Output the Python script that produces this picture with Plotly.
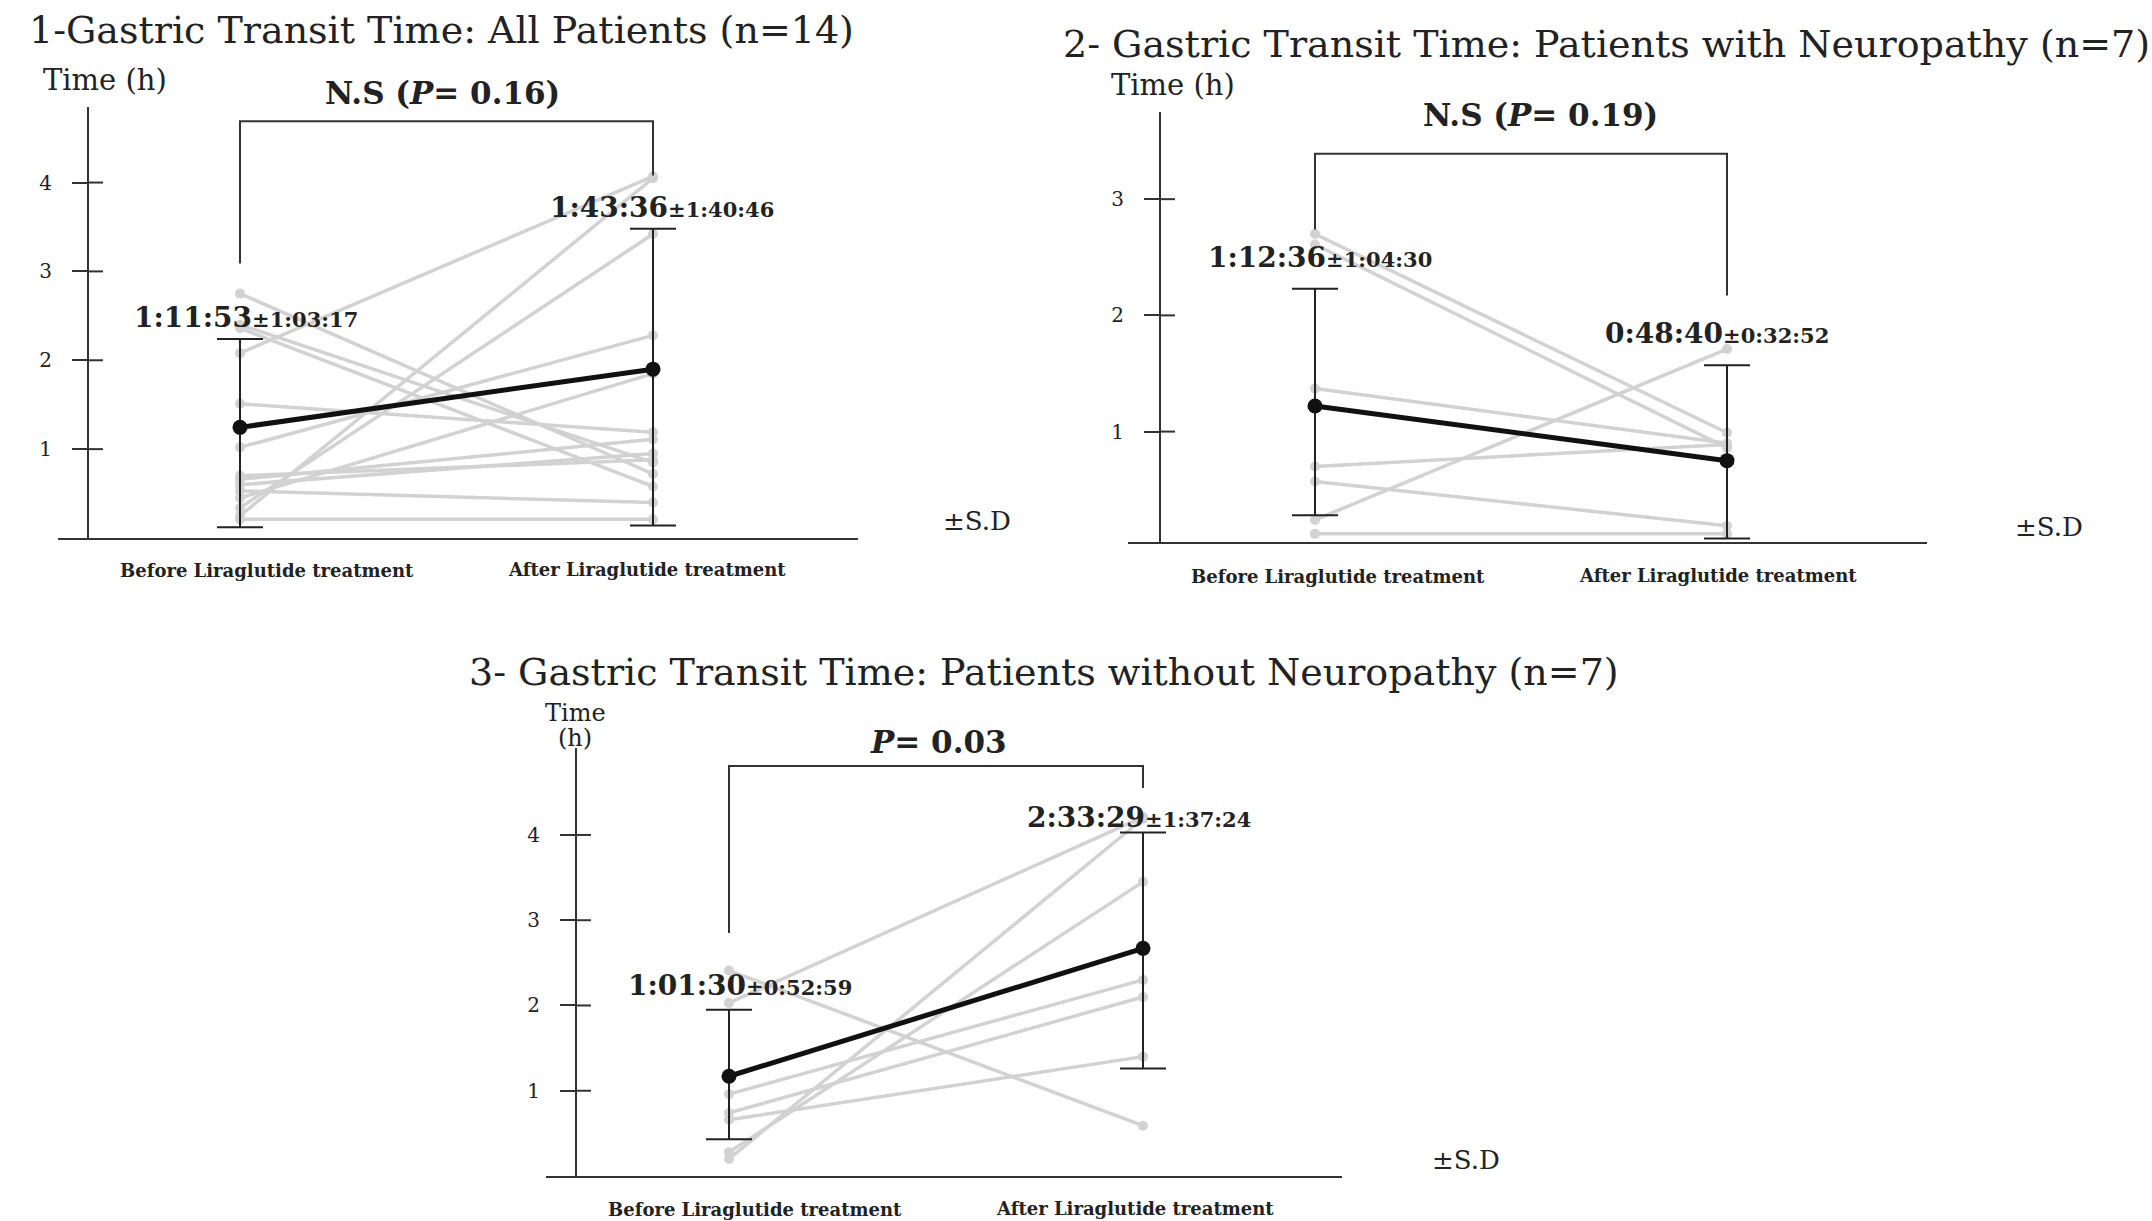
import plotly.graph_objects as go

W, H = 2152, 1221

categories = ["Before Liraglutide treatment", "After Liraglutide treatment"]
tick_values = [1, 2, 3, 4]

# ---------- Panel 1: all patients ----------
p1_title = "1-Gastric Transit Time: All Patients (n=14)"
p1_before = [2.75, 2.40, 2.36, 2.08, 1.51, 1.02, 0.70, 0.66, 0.53, 0.45, 0.34, 0.25, 0.21, 0.60]
p1_after = [0.72, 0.85, 0.58, 4.07, 1.19, 2.28, 0.88, 1.11, 0.40, 1.85, 3.42, 4.05, 0.21, 0.95]
p1_mean = [1.245, 1.90]
p1_err_plus = [0.995, 1.58]
p1_err_minus = [1.125, 1.76]
p1_mean_text = ["1:11:53", "1:43:36"]
p1_sd_text = ["±1:03:17", "±1:40:46"]
p1_pvalue = "N.S (<i>P</i>= 0.16)"
p1_bracket = [3.09, 4.69, 4.08]   # left leg end, top, right leg end
p1_yrange = [0, 4.85]

# ---------- Panel 2: with neuropathy ----------
p2_title = "2- Gastric Transit Time: Patients with Neuropathy (n=7)"
p2_before = [2.70, 2.61, 1.37, 0.70, 0.57, 0.24, 0.12]
p2_after = [0.99, 0.86, 0.90, 0.89, 0.19, 1.71, 0.12]
p2_mean = [1.22, 0.75]
p2_err_plus = [1.01, 0.82]
p2_err_minus = [0.94, 0.67]
p2_mean_text = ["1:12:36", "0:48:40"]
p2_sd_text = ["±1:04:30", "±0:32:52"]
p2_pvalue = "N.S (<i>P</i>= 0.19)"
p2_bracket = [2.74, 3.39, 2.17]
p2_yrange = [0.05, 3.75]

# ---------- Panel 3: without neuropathy ----------
p3_title = "3- Gastric Transit Time: Patients without Neuropathy (n=7)"
p3_before = [2.41, 2.03, 0.20, 0.28, 0.96, 0.74, 0.66]
p3_after = [0.59, 4.21, 4.19, 3.45, 2.30, 2.10, 1.40]
p3_mean = [1.17, 2.67]
p3_err_plus = [0.78, 1.36]
p3_err_minus = [0.74, 1.41]
p3_mean_text = ["1:01:30", "2:33:29"]
p3_sd_text = ["±0:52:59", "±1:37:24"]
p3_pvalue = "<i>P</i>= 0.03"
p3_bracket = [2.85, 4.81, 4.55]
p3_yrange = [0, 5.02]

FONT = "DejaVu Serif"
TXT = "#222222"
AX = "#333333"
GRAY = "#d2d2d2"


def px(x):
    return x / W


def py(y):
    return 1 - y / H


fig = go.Figure()

panels = [
    dict(n="", before=p1_before, after=p1_after, mean=p1_mean, ep=p1_err_plus, em=p1_err_minus,
         bracket=p1_bracket, yrange=p1_yrange,
         xdom=[58, 858], ydom=[538, 107], yaxis_x=88, cat_px=[240, 653]),
    dict(n="2", before=p2_before, after=p2_after, mean=p2_mean, ep=p2_err_plus, em=p2_err_minus,
         bracket=p2_bracket, yrange=p2_yrange,
         xdom=[1128, 1927], ydom=[542, 112], yaxis_x=1160, cat_px=[1315, 1727]),
    dict(n="3", before=p3_before, after=p3_after, mean=p3_mean, ep=p3_err_plus, em=p3_err_minus,
         bracket=p3_bracket, yrange=p3_yrange,
         xdom=[546, 1342], ydom=[1176, 748], yaxis_x=576, cat_px=[729, 1143]),
]

shapes = []
for p in panels:
    xa = "x" + p["n"]
    ya = "y" + p["n"]
    # individual patients
    for b, a in zip(p["before"], p["after"]):
        fig.add_trace(go.Scatter(
            x=[0, 1], y=[b, a], mode="lines+markers",
            line=dict(color=GRAY, width=3.5),
            marker=dict(color=GRAY, size=10),
            xaxis=xa, yaxis=ya, showlegend=False, hoverinfo="skip"))
    # mean +/- SD
    fig.add_trace(go.Scatter(
        x=[0, 1], y=p["mean"], mode="lines+markers",
        line=dict(color="#111111", width=5),
        marker=dict(color="#111111", size=15),
        error_y=dict(type="data", symmetric=False, array=p["ep"], arrayminus=p["em"],
                     color="#222222", thickness=2, width=23),
        xaxis=xa, yaxis=ya, showlegend=False))

    # axes
    unit = (p["cat_px"][1] - p["cat_px"][0])
    xr = [(p["xdom"][0] - p["cat_px"][0]) / unit, (p["xdom"][1] - p["cat_px"][0]) / unit]
    xkey = "xaxis" + p["n"]
    ykey = "yaxis" + p["n"]
    fig.update_layout(**{
        xkey: dict(domain=[px(p["xdom"][0]), px(p["xdom"][1])], range=xr, anchor=ya,
                   showline=True, linecolor=AX, linewidth=2, showgrid=False, zeroline=False,
                   showticklabels=False, ticks=""),
        ykey: dict(domain=[py(p["ydom"][0]), py(p["ydom"][1])], range=p["yrange"],
                   anchor="free", position=px(p["yaxis_x"]),
                   showline=True, linecolor=AX, linewidth=2, showgrid=False, zeroline=False,
                   ticks="outside", ticklen=15, tickwidth=2, tickcolor=AX,
                   tickvals=tick_values, ticklabelstandoff=16,
                   tickfont=dict(family=FONT, size=20, color=TXT)),
    })
    # inner half of the crossing tick marks
    for t in tick_values:
        shapes.append(dict(type="line", xref="paper", yref=ya, xsizemode="pixel",
                           xanchor=px(p["yaxis_x"]), x0=0, x1=15, y0=t, y1=t,
                           line=dict(color=AX, width=2)))
    # significance bracket
    l, top, r = p["bracket"]
    shapes.append(dict(type="path", xref=xa, yref=ya,
                       path=f"M 0,{l} L 0,{top} L 1,{top} L 1,{r}",
                       line=dict(color=AX, width=2)))

annotations = []


def ann(text, x, y, size, bold=False, xanchor="center"):
    if bold:
        text = "<b>" + text + "</b>"
    annotations.append(dict(text=text, x=px(x), y=py(y), xref="paper", yref="paper",
                            xanchor=xanchor, yanchor="middle", showarrow=False,
                            font=dict(family=FONT, size=size, color=TXT)))


def mean_label(main, sd, x, y):
    ann(main + f"<span style='font-size:21px'>{sd}</span>", x, y, 28, bold=True, xanchor="left")


TS = 38   # title size
# panel 1 texts
ann(p1_title, 27, 30, TS, xanchor="left")
ann("Time (h)", 105, 80, 29)
ann(p1_pvalue, 442, 93, 31, bold=True)
mean_label(p1_mean_text[0], p1_sd_text[0], 132, 317)
mean_label(p1_mean_text[1], p1_sd_text[1], 548, 207)
ann("±S.D", 941, 521, 26, xanchor="left")
ann(categories[0], 267, 571, 18, bold=True)
ann(categories[1], 647, 569, 18, bold=True)

# panel 2 texts
ann(p2_title, 1061, 44, TS, xanchor="left")
ann("Time (h)", 1173, 85, 29)
ann(p2_pvalue, 1540, 115, 31, bold=True)
mean_label(p2_mean_text[0], p2_sd_text[0], 1206, 257)
mean_label(p2_mean_text[1], p2_sd_text[1], 1603, 333)
ann("±S.D", 2013, 527, 26, xanchor="left")
ann(categories[0], 1338, 576, 18, bold=True)
ann(categories[1], 1718, 575, 18, bold=True)

# panel 3 texts
ann(p3_title, 467, 672, TS, xanchor="left")
ann("Time", 575, 713, 24)
ann("(h)", 575, 738, 24)
ann(p3_pvalue, 938, 742, 31, bold=True)
mean_label(p3_mean_text[0], p3_sd_text[0], 626, 985)
mean_label(p3_mean_text[1], p3_sd_text[1], 1025, 817)
ann("±S.D", 1430, 1160, 26, xanchor="left")
ann(categories[0], 755, 1209, 18, bold=True)
ann(categories[1], 1135, 1208, 18, bold=True)

fig.update_layout(
    width=W, height=H, margin=dict(l=0, r=0, t=0, b=0),
    paper_bgcolor="white", plot_bgcolor="white",
    shapes=shapes, annotations=annotations, showlegend=False,
    font=dict(family=FONT, color=TXT),
)

fig.write_html("out.html")
